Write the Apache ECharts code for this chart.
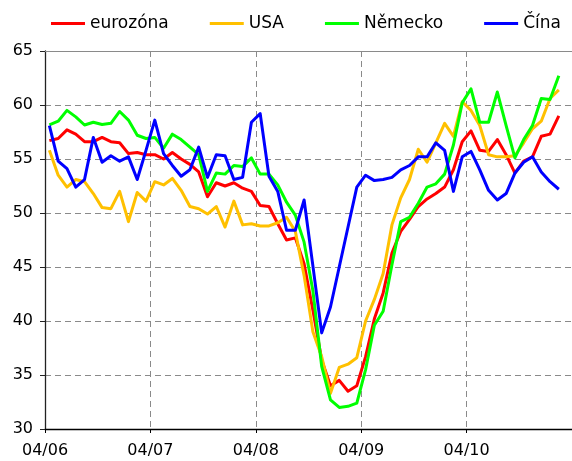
<!DOCTYPE html>
<html>
<head>
<meta charset="utf-8">
<script src="https://cdn.jsdelivr.net/npm/echarts@6/dist/echarts.min.js"></script>
<style>
html,body{margin:0;padding:0;background:#fff;}
#c{width:572px;height:461px;}
</style>
</head>
<body>
<div id="c"></div>
<script>
// Monthly values, April 2006 .. February 2011
const tickLabels = ['04/06', '04/07', '04/08', '04/09', '04/10'];
const seriesNames = ['eurozóna', 'USA', 'Německo', 'Čína'];

const eurozona = [56.7,56.9,57.7,57.3,56.6,56.6,57.0,56.6,56.5,55.5,55.6,55.4,55.4,55.0,55.6,55.0,54.5,53.8,51.5,52.8,
  52.5,52.8,52.3,52.0,50.7,50.6,49.0,47.5,47.7,45.3,41.0,36.4,34.0,34.5,33.5,34.0,36.7,40.2,42.6,46.3,
  48.3,49.4,50.6,51.3,51.8,52.4,54.0,56.6,57.6,55.8,55.7,56.8,55.4,53.7,54.8,55.2,57.1,57.3,59.0];
const usa = [55.8,53.5,52.4,53.1,52.9,51.8,50.5,50.4,52.0,49.2,51.9,51.1,52.9,52.6,53.2,52.1,50.6,50.4,49.9,50.6,
  48.7,51.1,48.9,49.0,48.8,48.8,49.1,49.6,48.3,44.2,39.0,36.7,33.3,35.7,36.0,36.6,40.0,42.0,44.4,48.9,
  51.4,53.1,55.9,54.7,56.5,58.3,57.1,60.3,59.5,58.1,55.4,55.2,55.2,55.3,56.5,57.8,58.5,60.6,61.4];
const nemecko = [58.15,58.5,59.5,58.9,58.15,58.4,58.2,58.3,59.4,58.6,57.2,56.9,57.0,56.0,57.3,56.8,56.1,55.4,52.0,53.7,
  53.6,54.4,54.3,55.1,53.6,53.6,52.6,51.0,49.8,47.3,42.8,35.8,32.7,32.0,32.1,32.4,35.5,39.6,40.9,45.2,
  49.2,49.6,50.9,52.4,52.7,53.6,56.3,60.2,61.5,58.4,58.4,61.2,58.1,55.1,56.8,58.1,60.6,60.5,62.7];
const cina = [58.1,54.8,54.1,52.4,53.1,57.0,54.7,55.3,54.8,55.2,53.1,55.8,58.6,55.5,54.4,53.4,54.0,56.1,53.3,55.4,
  55.3,53.1,53.3,58.4,59.2,53.4,52.0,48.4,48.4,51.2,45.1,38.9,41.3,45.0,48.7,52.4,53.5,53.0,53.1,53.3,
  54.0,54.4,55.2,55.2,56.5,55.8,52.0,55.2,55.7,54.0,52.1,51.2,51.8,53.7,54.7,55.2,53.8,52.9,52.2];

const colors = ['#FF0000', '#FFC000', '#00FF00', '#0000FF'];
const allValues = [eurozona, usa, nemecko, cina];

// each month point sits in the middle of its month (x in months since 04/06)
function toPoints(arr) { return arr.map((v, i) => [i + 0.5, v]); }

const chart = echarts.init(document.getElementById('c'), null, {renderer: 'canvas'});
const font = 'DejaVu Sans, Verdana, sans-serif';

chart.setOption({
  animation: false,
  backgroundColor: '#ffffff',
  legend: {
    left: 46, top: 10,
    itemWidth: 34, itemHeight: 3, itemGap: 41,
    icon: 'rect',
    textStyle: {fontFamily: font, fontSize: 17, color: '#000'},
    data: seriesNames
  },
  grid: {left: 45, right: -2, top: 51, bottom: 32, containLabel: false},
  xAxis: [{
    type: 'value', min: 0, max: 60, interval: 12,
    axisLine: {show: true, onZero: false, lineStyle: {color: '#000', width: 1.3}},
    axisTick: {show: true, length: 4, lineStyle: {color: '#000'}},
    axisLabel: {
      margin: 14, fontFamily: font, fontSize: 16, color: '#000',
      showMaxLabel: false,
      formatter: v => tickLabels[Math.round(v / 12)] || ''
    },
    splitLine: {show: true, lineStyle: {color: '#8a8a8a', type: [6, 4], width: 1}}
  }, {
    type: 'value', min: 0, max: 60, position: 'top',
    axisLine: {show: true, lineStyle: {color: '#8a8a8a', width: 1}},
    axisTick: {show: false}, axisLabel: {show: false}, splitLine: {show: false}
  }],
  yAxis: {
    type: 'value', min: 30, max: 65, interval: 5,
    axisLine: {show: true, lineStyle: {color: '#222', width: 1.3}},
    axisTick: {show: true, length: 5, lineStyle: {color: '#222'}},
    axisLabel: {margin: 12, fontFamily: font, fontSize: 16, color: '#000'},
    splitLine: {show: true, lineStyle: {color: '#8a8a8a', type: [6, 4], width: 1}}
  },
  series: seriesNames.map((name, k) => ({
    name: name,
    type: 'line',
    data: toPoints(allValues[k]),
    showSymbol: false,
    symbol: 'none',
    color: colors[k],
    lineStyle: {color: colors[k], width: 3, join: 'round'},
    z: 2 + k
  }))
});
</script>
</body>
</html>
